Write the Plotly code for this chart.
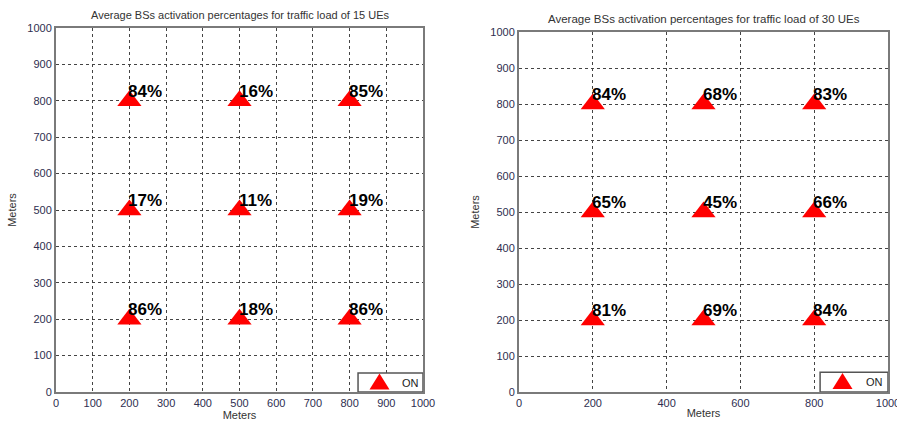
import plotly.graph_objects as go

bs_x = [200, 500, 800, 200, 500, 800, 200, 500, 800]
bs_y = [800, 800, 800, 500, 500, 500, 200, 200, 200]
pct_15 = [84, 16, 85, 17, 11, 19, 86, 18, 86]
pct_30 = [84, 68, 83, 65, 45, 66, 81, 69, 84]
titles = ["Average BSs activation percentages for traffic load of 15 UEs",
          "Average BSs activation percentages for traffic load of 30 UEs"]
legend_name = "ON"

W, H = 897, 423
fig = go.Figure()

doms = [(56 / W, 423 / W), (519 / W, 888 / W)]
ydoms = [((H - 392) / H, (H - 28) / H), ((H - 392) / H, (H - 32) / H)]
dticks = [100, 200]
title_sizes = [11, 11.5]
legend_box = [(823, 52), (816, 55)]

for i, pct in enumerate([pct_15, pct_30]):
    sfx = "" if i == 0 else "2"
    fig.add_trace(go.Scatter(
        x=bs_x, y=bs_y, mode="markers",
        marker=dict(symbol="triangle-up", size=21, color="#ff0000"),
        name=legend_name, xaxis="x" + sfx, yaxis="y" + sfx,
        showlegend=False, cliponaxis=False, hoverinfo="skip",
    ))
    for xv, yv, p in zip(bs_x, bs_y, pct):
        fig.add_annotation(
            x=xv, y=yv, xref="x" + sfx, yref="y" + sfx, text=f"<b>{p}%</b>",
            xanchor="left", yanchor="bottom", showarrow=False,
            xshift=-2, yshift=-1, borderpad=0,
            font=dict(family="Arial", size=17, color="black"),
        )

axis_common = dict(
    range=[0, 1000], showline=True, mirror=True, linecolor="#7a7a7a", linewidth=2,
    showgrid=True, gridcolor="#444", griddash="dot", gridwidth=1,
    zeroline=False, ticks="", automargin=False, ticklabeloverflow="allow",
    tickfont=dict(family="Arial", size=11, color="#2e2e50"),
)
title_font = dict(family="Arial", size=11, color="#333")

for i in range(2):
    sfx = "" if i == 0 else "2"
    fig.layout["xaxis" + sfx] = dict(
        axis_common, domain=list(doms[i]), anchor="y" + sfx, dtick=dticks[i], tick0=0,
        title=dict(text="Meters", font=title_font, standoff=1),
    )
    fig.layout["yaxis" + sfx] = dict(
        axis_common, domain=list(ydoms[i]), anchor="x" + sfx, dtick=100, tick0=0,
        title=dict(text="Meters", font=title_font, standoff=8),
    )
    fig.add_annotation(
        text=titles[i], xref="paper", yref="paper",
        x=(doms[i][0] + doms[i][1]) / 2, y=ydoms[i][1], yshift=5,
        xanchor="center", yanchor="bottom", showarrow=False,
        font=dict(family="Arial", size=title_sizes[i], color="#333"),
    )
    # manual legend box
    bx0, by1 = legend_box[i]
    fig.add_shape(type="rect", xref="x" + sfx, yref="y" + sfx,
                  x0=bx0, x1=1000, y0=0, y1=by1,
                  line=dict(color="#555", width=1.5), fillcolor="white", layer="above")
    fig.add_shape(type="path", xref="x" + sfx, yref="y" + sfx,
                  xsizemode="pixel", ysizemode="pixel",
                  xanchor=bx0 + (1000 - bx0) * 0.33, yanchor=by1 / 2,
                  path="M -10,-7 L 10,-7 L 0,9 Z",
                  line=dict(width=0), fillcolor="#ff0000", layer="above")
    fig.add_annotation(
        text=legend_name, xref="x" + sfx, yref="y" + sfx,
        x=bx0 + (1000 - bx0) * 0.65, y=by1 / 2, xanchor="left", yanchor="middle",
        showarrow=False, font=dict(family="Arial", size=11, color="#222"),
    )

fig.update_layout(
    width=W, height=H, margin=dict(l=0, r=0, t=0, b=0),
    plot_bgcolor="white", paper_bgcolor="white",
    showlegend=False,
)

fig.write_html("out.html", config={"displayModeBar": False},
               post_script="document.body.style.margin='0';document.body.style.overflow='hidden';")
